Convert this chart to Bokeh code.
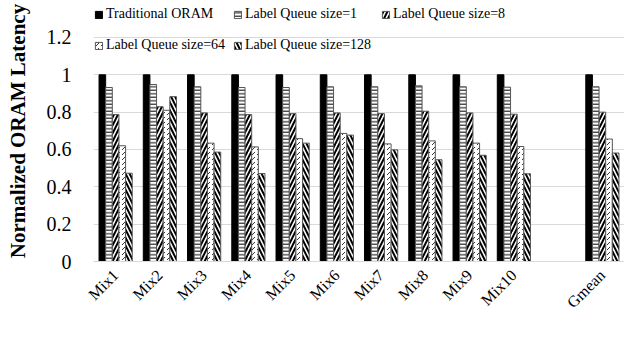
import math
from bokeh.plotting import figure
from bokeh.models import ColumnDataSource, FactorRange, Range1d, Legend, LegendItem, FixedTicker
from bokeh.transform import dodge
from bokeh.embed import file_html
from bokeh.resources import INLINE

categories = ["Mix1", "Mix2", "Mix3", "Mix4", "Mix5", "Mix6", "Mix7", "Mix8", "Mix9", "Mix10", " ", "Gmean"]
bar_cats = ["Mix1", "Mix2", "Mix3", "Mix4", "Mix5", "Mix6", "Mix7", "Mix8", "Mix9", "Mix10", "Gmean"]
series_names = ["Traditional ORAM", "Label Queue size=1", "Label Queue size=8",
                "Label Queue size=64", "Label Queue size=128"]
traditional = [1, 1, 1, 1, 1, 1, 1, 1, 1, 1, 1]
lq1 = [0.932, 0.948, 0.936, 0.932, 0.932, 0.936, 0.936, 0.941, 0.936, 0.934, 0.936]
lq8 = [0.787, 0.829, 0.796, 0.787, 0.792, 0.796, 0.792, 0.805, 0.796, 0.789, 0.800]
lq64 = [0.620, 0.810, 0.634, 0.614, 0.658, 0.686, 0.630, 0.646, 0.634, 0.616, 0.656]
lq128 = [0.473, 0.883, 0.586, 0.471, 0.634, 0.677, 0.598, 0.545, 0.569, 0.470, 0.581]
y_ticks = [0, 0.2, 0.4, 0.6, 0.8, 1.0, 1.2]
y_tick_labels = ["0", "0.2", "0.4", "0.6", "0.8", "1", "1.2"]

source = ColumnDataSource(dict(x=bar_cats, s0=traditional, s1=lq1, s2=lq8, s3=lq64, s4=lq128))

FONT = "Liberation Serif"

p = figure(width=624, height=321, x_range=FactorRange(*categories),
           y_range=Range1d(0, 1.398), output_backend="svg", toolbar_location=None,
           min_border_left=93, min_border_right=0, min_border_top=0, min_border_bottom=60)
p.outline_line_color = None

styles = [
    dict(fill_color="black", line_color="black"),
    dict(fill_color="white", line_color="#555555", hatch_pattern="horizontal_line",
         hatch_color="black", hatch_scale=3.5, hatch_weight=1.0),
    dict(fill_color="white", line_color="#555555", hatch_pattern="right_diagonal_line",
         hatch_color="black", hatch_scale=8, hatch_weight=2.0),
    dict(fill_color="white", line_color="#555555", hatch_pattern="right_diagonal_dash",
         hatch_color="black", hatch_scale=5, hatch_weight=0.8),
    dict(fill_color="white", line_color="#555555", hatch_pattern="left_diagonal_line",
         hatch_color="black", hatch_scale=8, hatch_weight=2.0),
]
offsets = [-0.3, -0.15, 0.0, 0.15, 0.3]
renderers = []
for i, (off, st) in enumerate(zip(offsets, styles)):
    r = p.vbar(x=dodge("x", off, range=p.x_range), top="s%d" % i, width=0.15,
               source=source, line_width=1, **st)
    renderers.append(r)

# legend: one legend per item, positioned in frame coordinates
leg_pos = [(1, 239), (140, 239), (288, 239), (1, 208), (140, 208)]
for name, r, pos in zip(series_names, renderers, leg_pos):
    lg = Legend(items=[LegendItem(label=name, renderers=[r])], location=pos,
                orientation="horizontal", padding=0, margin=0, spacing=0,
                glyph_width=9, glyph_height=9, label_standoff=3,
                label_text_font=FONT, label_text_font_size="14px",
                label_text_color="black", border_line_color=None,
                background_fill_alpha=0, label_height=15)
    p.add_layout(lg, "center")

p.yaxis.ticker = FixedTicker(ticks=y_ticks)
p.yaxis.major_label_overrides = {t: l for t, l in zip(y_ticks, y_tick_labels)}
p.yaxis.axis_line_color = None
p.yaxis.major_tick_line_color = None
p.yaxis.minor_tick_line_color = None
p.yaxis.major_label_standoff = 16
p.yaxis.major_label_text_font = FONT
p.yaxis.major_label_text_font_size = "20px"
p.yaxis.major_label_text_color = "black"
p.yaxis.axis_label = "Normalized ORAM Latency"
p.yaxis.axis_label_text_font = FONT
p.yaxis.axis_label_text_font_style = "bold"
p.yaxis.axis_label_text_font_size = "21px"
p.yaxis.axis_label_text_color = "black"
p.yaxis.axis_label_standoff = 14

p.xaxis.axis_line_color = "#d9d9d9"
p.xaxis.major_tick_line_color = None
p.xaxis.minor_tick_line_color = None
p.xaxis.major_label_orientation = math.pi / 4
p.xaxis.major_label_text_font = FONT
p.xaxis.major_label_text_font_size = "16px"
p.xaxis.major_label_text_color = "black"
p.xaxis.major_label_standoff = 5

p.xgrid.grid_line_color = None
p.ygrid.grid_line_color = "#d9d9d9"
p.ygrid.grid_line_width = 1

open("out.html", "w").write(file_html(p, INLINE))
